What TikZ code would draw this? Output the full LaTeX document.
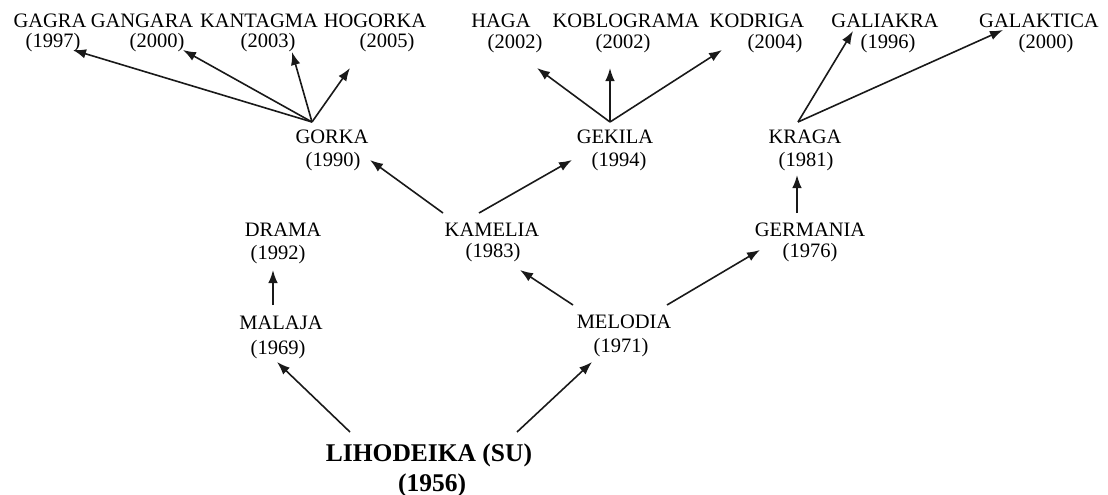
\documentclass[tikz,border=0pt]{standalone}
\usepackage{fontspec}
\setmainfont{Liberation Serif}
\usetikzlibrary{arrows.meta,calc}
\begin{document}
\begin{tikzpicture}[x=1pt,y=-1pt,
  nm/.style={inner sep=0pt,font=\fontsize{20.5}{24}\selectfont},
  big/.style={inner sep=0pt,font=\fontsize{25.5}{29}\selectfont\bfseries},
  arr/.style={draw=black!90,line width=1.6pt,-{Latex[length=13pt,width=9.5pt]}}]
\useasboundingbox (0,0) rectangle (1108,495);
% top row
\node[nm] (gagra) at (50,21) {GAGRA};
\node[nm] (gagray) at (53,43) {(1997)};
\node[nm] (gangara) at (142,21) {GANGARA};
\node[nm] (gangaray) at (157,43) {(2000)};
\node[nm] (kantagma) at (259,21) {KANTAGMA};
\node[nm] (kantagmay) at (268,43) {(2003)};
\node[nm] (hogorka) at (375,21) {HOGORKA};
\node[nm] (hogorkay) at (387,43) {(2005)};
\node[nm] (haga) at (501,21) {HAGA};
\node[nm] (hagay) at (515,44) {(2002)};
\node[nm] (koblograma) at (626,21) {KOBLOGRAMA};
\node[nm] (koblogramay) at (623,44) {(2002)};
\node[nm] (kodriga) at (757,21) {KODRIGA};
\node[nm] (kodrigay) at (775,44) {(2004)};
\node[nm] (galiakra) at (885,21) {GALIAKRA};
\node[nm] (galiakray) at (888,44) {(1996)};
\node[nm] (galaktica) at (1039,21) {GALAKTICA};
\node[nm] (galakticay) at (1046,44) {(2000)};
% second row
\node[nm] (gorka) at (332,137) {GORKA};
\node[nm] (gorkay) at (333,162) {(1990)};
\node[nm] (gekila) at (615,137) {GEKILA};
\node[nm] (gekilay) at (619,162) {(1994)};
\node[nm] (kraga) at (805,137) {KRAGA};
\node[nm] (kragay) at (806,162) {(1981)};
% third row
\node[nm] (drama) at (283,230) {DRAMA};
\node[nm] (dramay) at (278,255) {(1992)};
\node[nm] (kamelia) at (492,230) {KAMELIA};
\node[nm] (kameliay) at (493,253) {(1983)};
\node[nm] (germania) at (810,230) {GERMANIA};
\node[nm] (germaniay) at (810,253) {(1976)};
% fourth row
\node[nm] (malaja) at (281,323) {MALAJA};
\node[nm] (malajay) at (278,350) {(1969)};
\node[nm] (melodia) at (624,322) {MELODIA};
\node[nm] (melodiay) at (621,348) {(1971)};
% root
\node[big] (lihodeika) at (429,455) {LIHODEIKA (SU)};
\node[big] (lihodeikay) at (432,485) {(1956)};
% arrows from GORKA
\draw[arr] ($(gorka)+(-20,-15)$) -- ($(gagray)+(20,7)$);
\draw[arr] ($(gorka)+(-20,-15)$) -- ($(gangaray)+(26,7)$);
\draw[arr] ($(gorka)+(-20,-15)$) -- ($(kantagmay)+(24,9)$);
\draw[arr] ($(gorka)+(-20,-15)$) -- ($(hogorkay)+(-37,25)$);
% arrows from GEKILA
\draw[arr] ($(gekila)+(-5,-15)$) -- ($(hagay)+(22,24)$);
\draw[arr] ($(gekila)+(-5,-15)$) -- ($(koblogramay)+(-13,24)$);
\draw[arr] ($(gekila)+(-5,-15)$) -- ($(kodrigay)+(-53,6)$);
% arrows from KRAGA
\draw[arr] ($(kraga)+(-7,-15)$) -- ($(galiakra)+(-32,10)$);
\draw[arr] ($(kraga)+(-7,-15)$) -- ($(galaktica)+(-36,9)$);
% arrows from KAMELIA
\draw[arr] ($(kamelia)+(-49,-17)$) -- ($(gorkay)+(37,-2)$);
\draw[arr] ($(kamelia)+(-13,-17)$) -- ($(gekilay)+(-47,-2)$);
% arrows from MELODIA
\draw[arr] ($(melodia)+(-51,-17)$) -- ($(kameliay)+(27,17)$);
\draw[arr] ($(melodia)+(43,-17)$) -- ($(germaniay)+(-50,-3)$);
% GERMANIA to KRAGA
\draw[arr] ($(germania)+(-13,-17)$) -- ($(kragay)+(-9,13)$);
% MALAJA to DRAMA
\draw[arr] ($(malaja)+(-8,-18)$) -- ($(dramay)+(-5,15)$);
% root arrows
\draw[arr] ($(lihodeika)+(-79,-23)$) -- ($(malajay)+(-1,12)$);
\draw[arr] ($(lihodeika)+(88,-23)$) -- ($(melodiay)+(-29,14)$);
\end{tikzpicture}
\end{document}
